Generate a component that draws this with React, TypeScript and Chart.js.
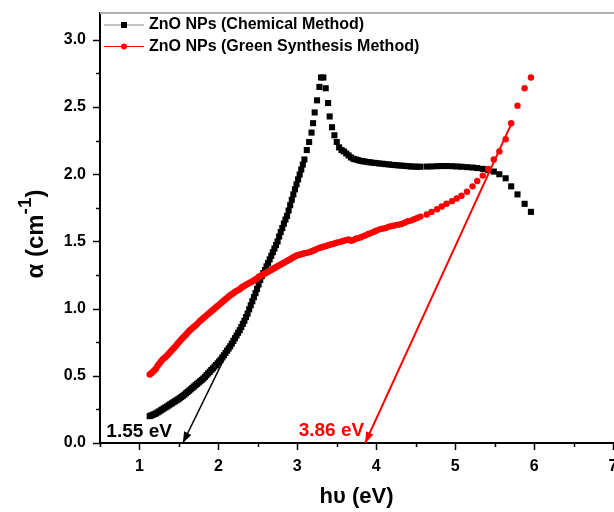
import React, { useEffect, useRef } from 'react';
import { Chart, registerables } from 'chart.js';
Chart.register(...registerables);

const energy = [
  1.13, 1.15, 1.17, 1.19, 1.21, 1.23, 1.25, 1.27, 1.29, 1.31, 1.33, 1.35, 1.37, 1.39, 1.41, 1.43, 1.45, 1.47, 1.49, 1.51, 1.53, 1.55,
  1.57, 1.59, 1.61, 1.63, 1.65, 1.67, 1.69, 1.71, 1.73, 1.75, 1.77, 1.79, 1.81, 1.83, 1.85, 1.87, 1.89, 1.91, 1.93, 1.95, 1.97, 1.99,
  2.01, 2.03, 2.05, 2.07, 2.09, 2.11, 2.13, 2.15, 2.17, 2.19, 2.21, 2.23, 2.25, 2.27, 2.29, 2.31, 2.33, 2.35, 2.37, 2.39, 2.41, 2.43,
  2.45, 2.47, 2.49, 2.51, 2.53, 2.55, 2.57, 2.59, 2.61, 2.63, 2.65, 2.67, 2.69, 2.71, 2.73, 2.75, 2.77, 2.79, 2.81, 2.83, 2.85, 2.87,
  2.89, 2.91, 2.93, 2.95, 2.97, 2.99, 3.01, 3.03, 3.05, 3.07, 3.09,
  3.12, 3.15, 3.18, 3.20, 3.22, 3.25, 3.28, 3.30, 3.33, 3.36, 3.39, 3.41, 3.44, 3.47, 3.50, 3.53, 3.56, 3.59, 3.62, 3.65, 3.68,
  3.71, 3.74, 3.77, 3.80,
  3.83, 3.86, 3.90, 3.93, 3.97, 4.00, 4.04, 4.08, 4.12, 4.16, 4.20, 4.24, 4.28, 4.32, 4.36, 4.40, 4.44, 4.48, 4.52, 4.56,
  4.64, 4.70, 4.77, 4.83, 4.89, 4.96, 5.02, 5.08, 5.15, 5.22, 5.28, 5.35, 5.42, 5.49, 5.56, 5.64, 5.71, 5.79, 5.88, 5.96,
];

const alphaChemical = [
  0.200, 0.205, 0.210, 0.215, 0.220, 0.228, 0.235, 0.243, 0.250, 0.258, 0.265, 0.272, 0.280, 0.288, 0.295, 0.303, 0.310, 0.318, 0.325, 0.333, 0.342, 0.351,
  0.360, 0.370, 0.380, 0.390, 0.400, 0.410, 0.420, 0.430, 0.440, 0.450, 0.460, 0.470, 0.480, 0.492, 0.505, 0.518, 0.530, 0.543, 0.555, 0.568, 0.580, 0.593,
  0.607, 0.620, 0.637, 0.653, 0.670, 0.687, 0.703, 0.720, 0.740, 0.760, 0.780, 0.800, 0.820, 0.840, 0.863, 0.887, 0.910, 0.937, 0.963, 0.995, 1.025, 1.055,
  1.085, 1.115, 1.147, 1.180, 1.213, 1.242, 1.265, 1.288, 1.315, 1.340, 1.367, 1.393, 1.420, 1.447, 1.473, 1.500, 1.537, 1.570, 1.600, 1.633, 1.663, 1.690,
  1.730, 1.770, 1.810, 1.850, 1.888, 1.925, 1.962, 1.998, 2.035, 2.072, 2.110,
  2.18, 2.24, 2.31, 2.38, 2.46, 2.55, 2.65, 2.72, 2.72, 2.64, 2.53, 2.43, 2.35, 2.29, 2.24, 2.20, 2.18, 2.17, 2.155, 2.14, 2.125,
  2.115, 2.11, 2.105, 2.10,
  2.097, 2.094, 2.09, 2.088, 2.085, 2.083, 2.08, 2.078, 2.075, 2.073, 2.07, 2.068, 2.066, 2.064, 2.062, 2.06, 2.058, 2.057, 2.056, 2.056,
  2.057, 2.058, 2.06, 2.061, 2.061, 2.06, 2.058, 2.056, 2.053, 2.05, 2.046, 2.04, 2.03, 2.02, 2.00, 1.97, 1.91, 1.85, 1.78, 1.72,
];

const alphaGreen = [
  0.510, 0.520, 0.530, 0.542, 0.555, 0.575, 0.590, 0.605, 0.620, 0.630, 0.640, 0.652, 0.665, 0.678, 0.690, 0.703, 0.715, 0.730, 0.745, 0.758, 0.770, 0.783,
  0.795, 0.808, 0.820, 0.833, 0.845, 0.855, 0.865, 0.875, 0.885, 0.898, 0.910, 0.920, 0.930, 0.940, 0.950, 0.960, 0.970, 0.980, 0.990, 1.000, 1.010, 1.020,
  1.030, 1.040, 1.050, 1.060, 1.070, 1.080, 1.090, 1.100, 1.107, 1.115, 1.125, 1.132, 1.138, 1.145, 1.155, 1.163, 1.170, 1.177, 1.183, 1.190, 1.197, 1.203,
  1.210, 1.217, 1.225, 1.235, 1.242, 1.248, 1.255, 1.262, 1.268, 1.275, 1.282, 1.288, 1.295, 1.302, 1.308, 1.315, 1.322, 1.328, 1.335, 1.342, 1.348, 1.355,
  1.362, 1.368, 1.375, 1.382, 1.388, 1.395, 1.398, 1.402, 1.405, 1.408, 1.412,
  1.415, 1.42, 1.427, 1.43, 1.437, 1.445, 1.452, 1.455, 1.46, 1.465, 1.472, 1.475, 1.48, 1.485, 1.49, 1.495, 1.50, 1.505, 1.51, 1.515, 1.505,
  1.51, 1.52, 1.525, 1.53,
  1.538, 1.545, 1.555, 1.562, 1.572, 1.58, 1.59, 1.595, 1.60, 1.61, 1.615, 1.62, 1.625, 1.63, 1.64, 1.65, 1.655, 1.665, 1.675, 1.685,
  1.70, 1.72, 1.74, 1.76, 1.78, 1.80, 1.82, 1.84, 1.87, 1.91, 1.95, 1.99, 2.04, 2.11, 2.17, 2.26, 2.38, 2.51, 2.64, 2.72,
];

const seriesNames = ['ZnO NPs (Chemical Method)', 'ZnO NPs (Green Synthesis Method)'];
const xTickValues = [1, 2, 3, 4, 5, 6, 7];
const yTickValues = [0, 0.5, 1, 1.5, 2, 2.5, 3];
const yTickLabels = ['0.0', '0.5', '1.0', '1.5', '2.0', '2.5', '3.0'];
const chemicalTangent = [{ x: 1.55, y: 0 }, { x: 2.5, y: 1.14 }];
const greenTangent = [{ x: 3.86, y: 0 }, { x: 5.7, y: 2.36 }];
const gapLabels = ['1.55 eV', '3.86 eV'];
const xTitle = 'h\u03c5 (eV)';
const yTitleParts = ['\u03b1 (cm', '-1', ')'];

const X_MIN = 0.5;
const X_MAX = 7;
const Y_MIN = 0;
const Y_MAX = 3.2;
const FONT = '"Liberation Sans", Arial, Helvetica, sans-serif';
const RED = '#ff0000';

function drawArrowHead(ctx: CanvasRenderingContext2D, xs: any, ys: any, seg: { x: number; y: number }[], color: string) {
  const tipX = xs.getPixelForValue(seg[0].x);
  const tipY = ys.getPixelForValue(seg[0].y);
  const fromX = xs.getPixelForValue(seg[1].x);
  const fromY = ys.getPixelForValue(seg[1].y);
  const ang = Math.atan2(tipY - fromY, tipX - fromX);
  const len = 11;
  const hw = 4;
  const bx = tipX - len * Math.cos(ang);
  const by = tipY - len * Math.sin(ang);
  ctx.fillStyle = color;
  ctx.beginPath();
  ctx.moveTo(tipX, tipY);
  ctx.lineTo(bx + hw * Math.sin(ang), by - hw * Math.cos(ang));
  ctx.lineTo(bx - hw * Math.sin(ang), by + hw * Math.cos(ang));
  ctx.closePath();
  ctx.fill();
}

const decorations = {
  id: 'decorations',
  afterDatasetsDraw(chart: any) {
    const { ctx, scales } = chart;
    ctx.save();
    drawArrowHead(ctx, scales.x, scales.y, chemicalTangent, '#000');
    drawArrowHead(ctx, scales.x, scales.y, greenTangent, RED);
    ctx.restore();
  },
  afterDraw(chart: any) {
    const { ctx, chartArea: ca, scales } = chart;
    const xs = scales.x;
    const ys = scales.y;
    ctx.save();
    ctx.strokeStyle = '#b0b0b0';
    ctx.lineWidth = 2;
    ctx.beginPath();
    ctx.moveTo(ca.left, ca.top);
    ctx.lineTo(chart.width, ca.top);
    ctx.stroke();

    ctx.strokeStyle = '#000';
    ctx.lineWidth = 1.5;
    for (let k = 1; k * 0.5 <= X_MAX + 1e-9; k++) {
      const v = k * 0.5;
      const px = Math.round(xs.getPixelForValue(v)) + 0.5;
      const len = k % 2 === 0 ? 7 : 4;
      ctx.beginPath();
      ctx.moveTo(px, ca.bottom);
      ctx.lineTo(px, ca.bottom + len);
      ctx.stroke();
    }
    for (let k = 0; k * 0.25 <= 3 + 1e-9; k++) {
      const v = k * 0.25;
      const py = Math.round(ys.getPixelForValue(v)) + 0.5;
      const len = k % 2 === 0 ? 7 : 4;
      ctx.beginPath();
      ctx.moveTo(ca.left, py);
      ctx.lineTo(ca.left - len, py);
      ctx.stroke();
    }

    ctx.font = `bold 19px ${FONT}`;
    ctx.textAlign = 'right';
    ctx.textBaseline = 'alphabetic';
    ctx.fillStyle = '#000';
    ctx.fillText(gapLabels[0], xs.getPixelForValue(chemicalTangent[0].x) - 11, ca.bottom - 6);
    ctx.fillStyle = RED;
    ctx.fillText(gapLabels[1], xs.getPixelForValue(greenTangent[0].x) - 1, ca.bottom - 7);

    const rows = [
      { name: seriesNames[0], line: '#888888', mark: '#000', rect: true, y: 25 },
      { name: seriesNames[1], line: RED, mark: RED, rect: false, y: 46.5 },
    ];
    rows.forEach((r) => {
      ctx.strokeStyle = r.line;
      ctx.lineWidth = 1;
      ctx.beginPath();
      ctx.moveTo(104, r.y);
      ctx.lineTo(144, r.y);
      ctx.stroke();
      ctx.fillStyle = r.mark;
      if (r.rect) {
        ctx.fillRect(121, r.y - 3, 6, 6);
      } else {
        ctx.beginPath();
        ctx.arc(124, r.y, 3, 0, Math.PI * 2);
        ctx.fill();
      }
      ctx.fillStyle = '#000';
      ctx.font = `bold 16px ${FONT}`;
      ctx.textAlign = 'left';
      ctx.textBaseline = 'middle';
      ctx.fillText(r.name, 149, r.y);
    });

    ctx.fillStyle = '#000';
    ctx.font = `bold 22px ${FONT}`;
    ctx.textAlign = 'center';
    ctx.textBaseline = 'middle';
    ctx.fillText(xTitle, (ca.left + ca.right) / 2, 497);

    ctx.save();
    ctx.translate(35, (ca.top + ca.bottom) / 2 + 6);
    ctx.rotate(-Math.PI / 2);
    const big = `bold 24px ${FONT}`;
    const small = `bold 19px ${FONT}`;
    ctx.font = big;
    const w0 = ctx.measureText(yTitleParts[0]).width;
    const w2 = ctx.measureText(yTitleParts[2]).width;
    ctx.font = small;
    const w1 = ctx.measureText(yTitleParts[1]).width;
    let cx = -(w0 + w1 + w2) / 2;
    ctx.textAlign = 'left';
    ctx.textBaseline = 'alphabetic';
    ctx.font = big;
    ctx.fillText(yTitleParts[0], cx, 8);
    cx += w0;
    ctx.font = small;
    ctx.fillText(yTitleParts[1], cx, -4);
    cx += w1;
    ctx.font = big;
    ctx.fillText(yTitleParts[2], cx, 8);
    ctx.restore();

    ctx.restore();
  },
};

export default function App() {
  const ref = useRef<HTMLCanvasElement>(null);
  useEffect(() => {
    const canvas = ref.current;
    if (!canvas) return;
    const chart = new Chart(canvas, {
      type: 'scatter',
      data: {
        datasets: [
          {
            label: seriesNames[1],
            data: energy.map((e, i) => ({ x: e, y: alphaGreen[i] })),
            pointStyle: 'circle',
            pointRadius: 3.2,
            pointBackgroundColor: RED,
            pointBorderWidth: 0,
            borderColor: RED,
            showLine: false,
          },
          {
            label: 'green-tangent',
            data: greenTangent,
            showLine: true,
            borderColor: RED,
            borderWidth: 2,
            pointRadius: 0,
          },
          {
            label: seriesNames[0],
            data: energy.map((e, i) => ({ x: e, y: alphaChemical[i] })),
            pointStyle: 'rect',
            pointRadius: 4.3,
            pointBackgroundColor: '#000',
            pointBorderWidth: 0,
            borderColor: '#000',
            showLine: false,
          },
          {
            label: 'chemical-tangent',
            data: chemicalTangent,
            showLine: true,
            borderColor: '#000',
            borderWidth: 1.5,
            pointRadius: 0,
          },
        ],
      },
      options: {
        responsive: false,
        animation: false,
        events: [],
        layout: { autoPadding: false, padding: { top: 13, right: 1, left: 0, bottom: 0 } },
        plugins: {
          legend: { display: false },
          tooltip: { enabled: false },
        },
        scales: {
          x: {
            type: 'linear',
            min: X_MIN,
            max: X_MAX,
            afterBuildTicks: (s: any) => {
              s.ticks = xTickValues.map((v) => ({ value: v }));
            },
            afterFit: (s: any) => {
              s.height = 69;
              s.paddingLeft = 0;
              s.paddingRight = 0;
            },
            grid: { display: false, drawTicks: false },
            border: { display: true, color: '#000', width: 2 },
            ticks: {
              color: '#000',
              font: { family: FONT, size: 16, weight: 'bold' },
              padding: 14,
              maxRotation: 0,
              autoSkip: false,
              callback: (v: any) => String(v),
            },
          },
          y: {
            type: 'linear',
            min: Y_MIN,
            max: Y_MAX,
            afterBuildTicks: (s: any) => {
              s.ticks = yTickValues.map((v) => ({ value: v }));
            },
            afterFit: (s: any) => {
              s.width = 100;
              s.paddingTop = 0;
              s.paddingBottom = 0;
            },
            grid: { display: false, drawTicks: false },
            border: { display: true, color: '#000', width: 2 },
            ticks: {
              color: '#000',
              font: { family: FONT, size: 16, weight: 'bold' },
              padding: 14,
              autoSkip: false,
              callback: (_v: any, i: number) => yTickLabels[i],
            },
          },
        },
      },
      plugins: [decorations],
    } as any);
    return () => chart.destroy();
  }, []);
  return (
    <div style={{ position: 'absolute', left: 0, top: 0, width: 614, height: 512 }}>
      <canvas ref={ref} width={614} height={512} style={{ display: 'block' }} />
    </div>
  );
}
